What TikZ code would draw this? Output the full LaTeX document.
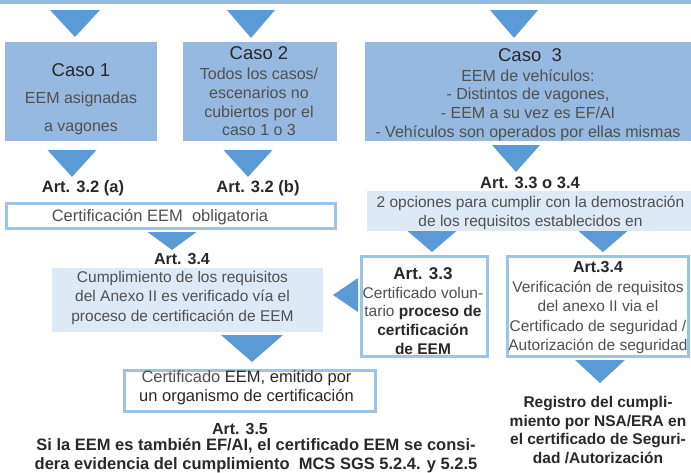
\documentclass[tikz,border=0pt]{standalone}
\usepackage{fontspec}
\setmainfont{Liberation Sans}
\usepackage{tikz}
\usetikzlibrary{positioning}

\definecolor{azulcaja}{RGB}{149,185,225}
\definecolor{azulflecha}{RGB}{91,155,213}
\definecolor{azulclaro}{RGB}{222,233,246}
\definecolor{azulborde}{RGB}{157,195,230}
\definecolor{gristexto}{RGB}{40,40,40}
\definecolor{grisclaro}{RGB}{80,80,80}

\tikzset{
    caja/.style={fill=azulcaja, inner sep=0pt},
    cajaclara/.style={fill=azulclaro, inner sep=0pt},
    cajaborde/.style={draw=azulborde, line width=3pt, fill=white, inner sep=0pt},
    flecha/.style={fill=azulflecha},
    titulo/.style={text=gristexto, inner sep=0pt, font=\fontsize{18.5}{22}\selectfont},
    cuerpo/.style={text=grisclaro, align=center, inner sep=0pt, font=\fontsize{16}{18.7}\selectfont},
    texto/.style={text=grisclaro, align=center, inner sep=0pt, font=\fontsize{15.5}{19.5}\selectfont},
    articulo/.style={text=gristexto, align=center, inner sep=0pt, font=\bfseries\fontsize{16.5}{19}\selectfont}
}

\begin{document}
\begin{tikzpicture}[x=1pt, y=-1pt]
    % Rahmen
        \useasboundingbox (0,0) rectangle (691,472);
        \fill[azulcaja] (0,0) rectangle (691,4);

    % Flechas arriba
        \fill[flecha] (50,10) -- (100,10) -- (75,37) -- cycle;
        \fill[flecha] (227,10) -- (275,10) -- (251,38) -- cycle;
        \fill[flecha] (490,10) -- (538,10) -- (514,38) -- cycle;

    % Casos
        \node[caja, minimum width=152pt, minimum height=99pt] (caso1) at (81,91.5) {};
        \node[caja, minimum width=154pt, minimum height=99pt] (caso2) at (260,91.5) {};
        \node[caja, minimum width=326pt, minimum height=99pt] (caso3) at (528,91.5) {};
        \node[titulo] (tcaso1) at (81,70) {Caso 1};
        \node[titulo] (tcaso2) at (259,53) {Caso 2};
        \node[titulo] (tcaso3) at (530,55) {Caso\ \ 3};
        \node[cuerpo, font=\fontsize{16}{28}\selectfont] (ccaso1) at (81,113) {EEM asignadas\\a vagones};
        \node[cuerpo] (ccaso2) at (259,102) {Todos los casos/\\escenarios no\\cubiertos por el\\caso 1 o 3};
        \node[cuerpo] (ccaso3) at (528,105) {EEM de vehículos:\\- Distintos de vagones,\\- EEM a su vez es EF/AI\\- Vehículos son operados por ellas mismas};

    % Flechas debajo de los casos
        \fill[flecha] (47.5,150) -- (96.5,150) -- (72,177) -- cycle;
        \fill[flecha] (223.5,150) -- (272.5,150) -- (248,177) -- cycle;
        \fill[flecha] (492,145) -- (540,145) -- (516,172) -- cycle;

    % Articulos
        \node[articulo] (art32a) at (83,188) {Art. 3.2 (a)};
        \node[articulo] (art32b) at (258,188) {Art. 3.2 (b)};
        \node[articulo] (art334) at (530,183) {Art. 3.3 o 3.4};

    % Certificacion obligatoria
        \node[cajaborde, minimum width=329pt, minimum height=25pt] (oblig) at (171,216) {};
        \node[texto, font=\fontsize{16.5}{19}\selectfont] (toblig) at (160,217) {Certificación EEM\ \ obligatoria};
        \fill[flecha] (147.5,232) -- (196.5,232) -- (172,250) -- cycle;

    % Art. 3.4 izquierda
        \node[articulo, font=\bfseries\fontsize{16}{19}\selectfont] (art34) at (182,259) {Art. 3.4};
        \node[cajaclara, minimum width=271pt, minimum height=64pt] (anexo) at (187.5,300) {};
        \node[texto] (tanexo) at (182.5,297.5) {Cumplimiento de los requisitos\\del Anexo II es verificado vía el\\proceso de certificación de EEM};

    % 2 opciones
        \node[cajaclara, minimum width=324pt, minimum height=40pt] (opciones) at (529,211) {};
        \node[texto, font=\fontsize{15.5}{19}\selectfont] (topciones) at (530.5,212.5) {2 opciones para cumplir con la demostración\\de los requisitos establecidos en};
        \fill[flecha] (407.5,231) -- (456.5,231) -- (432,252) -- cycle;
        \fill[flecha] (578.5,231) -- (627.5,231) -- (603,252) -- cycle;

    % Art. 3.3 und Art.3.4 rechts
        \node[cajaborde, minimum width=126pt, minimum height=100pt] (art33) at (424.5,306.5) {};
        \node[texto, font=\fontsize{15.5}{18.7}\selectfont] (tart33) at (423,311) {{\bfseries\color{gristexto}\fontsize{17}{18.7}\selectfont Art. 3.3}\\Certificado volun-\\tario {\bfseries\color{gristexto}proceso de}\\{\bfseries\color{gristexto}certificación}\\{\bfseries\color{gristexto}de EEM}};
        \node[cajaborde, minimum width=181pt, minimum height=100pt] (art34d) at (598,306.5) {};
        \node[texto] (tart34d) at (598,308) {{\bfseries\color{gristexto}\fontsize{16}{19.5}\selectfont Art.3.4}\\Verificación de requisitos\\del anexo II via el\\Certificado de seguridad /\\Autorización de seguridad};

    % Flecha izquierda
        \fill[flecha] (358,278) -- (358,312) -- (333,295) -- cycle;

    % Certificado EEM
        \fill[flecha] (221,335) -- (283,335) -- (252,362) -- cycle;
        \node[cajaborde, minimum width=251pt, minimum height=41pt] (certif) at (250,391) {};
        \node[texto, font=\fontsize{16.5}{19}\selectfont] (tcertif) at (246.5,388) {Certificado {\color{gristexto}EEM, emitido por}\\{\color{gristexto}un organismo de certificación}};

    % Art. 3.5
        \node[articulo, font=\bfseries\fontsize{16}{19}\selectfont] (art35) at (240,429) {Art. 3.5};
        \node[articulo] (tart35) at (256,456) {Si la EEM es también EF/AI, el certificado EEM se consi-\\dera evidencia del cumplimiento\ \ MCS SGS 5.2.4. y 5.2.5};

    % Registro
        \fill[flecha] (575,360) -- (625,360) -- (600,383) -- cycle;
        \node[articulo, font=\bfseries\fontsize{15.5}{18.7}\selectfont] (registro) at (598,430) {Registro del cumpli-\\miento por NSA/ERA en\\el certificado de Seguri-\\dad /Autorización};
\end{tikzpicture}
\end{document}
